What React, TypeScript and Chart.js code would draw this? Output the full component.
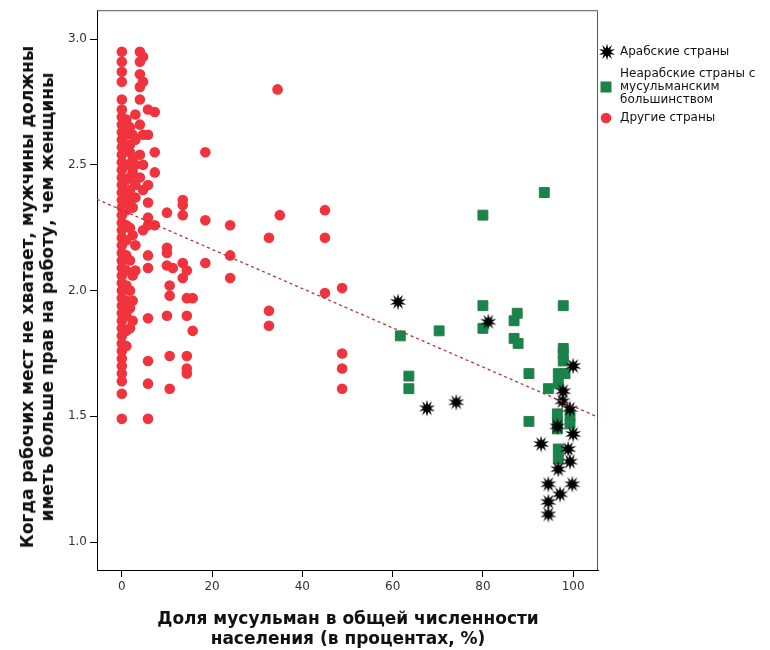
import React, { useEffect, useRef } from "react";
import { Chart, registerables } from "chart.js";

Chart.register(...registerables);

// ---- Data ----
const arabX = [61.2, 81.2, 67.6, 74.1, 92.9, 100, 97.8, 97.6, 99.3, 96.5, 100, 98.9, 99.3, 96.7, 94.5, 99.8, 97.1, 94.5, 94.5];
const arabY = [1.955, 1.876, 1.532, 1.556, 1.39, 1.70, 1.60, 1.56, 1.53, 1.46, 1.43, 1.37, 1.32, 1.29, 1.23, 1.23, 1.19, 1.16, 1.11];

const muslimX = [93.6, 80, 80, 80, 70.3, 61.7, 63.6, 63.6, 87.6, 86.9, 86.9, 87.8, 97.8, 97.8, 97.8, 97.8, 96.7, 98.2, 96.7, 90.2, 94.5, 90.2, 96.5, 96.5, 96.5, 99.3, 99.3, 96.7, 96.7];
const muslimY = [2.39, 2.30, 1.94, 1.85, 1.84, 1.82, 1.66, 1.61, 1.91, 1.88, 1.81, 1.79, 1.94, 1.77, 1.75, 1.72, 1.67, 1.67, 1.63, 1.67, 1.61, 1.48, 1.51, 1.48, 1.45, 1.50, 1.47, 1.37, 1.33];

const otherX = [
  0, 0, 0, 0, 0, 0,
  0, 0, 0, 0, 0, 0, 0, 0, 0, 0, 0, 0, 0, 0, 0, 0, 0, 0, 0, 0, 0, 0, 0, 0, 0, 0, 0, 0, 0, 0, 0, 0, 0, 0, 0, 0, 0, 0,
  1, 1, 1, 1, 1, 1, 1, 1, 1, 1, 1, 1, 1, 1, 1, 1,
  1.8, 1.8, 1.8, 1.8, 1.8, 1.8, 1.8, 1.8, 1.8, 1.8, 1.8,
  2.4, 2.4, 2.4, 2.4, 2.4, 2.4, 2.4, 2.4,
  3, 3, 3, 3, 3, 3, 3,
  4, 4, 4, 4, 4, 4, 4, 4,
  4.7, 4.7, 4.7, 4.7, 4.7, 4.7,
  5.8, 5.8, 5.8, 5.8, 5.8, 5.8, 5.8, 5.8, 5.8, 5.8, 5.8, 5.8,
  7.3, 7.3, 7.3, 7.3,
  10, 10, 10, 10, 10,
  10.6, 10.6, 10.6, 10.6,
  11.3,
  13.5, 13.5, 13.5, 13.5, 13.5,
  14.4, 14.4, 14.4, 14.4, 14.4, 14.4,
  15.7, 15.7,
  18.5, 18.5, 18.5,
  24, 24, 24,
  32.6, 32.6, 32.6,
  34.5, 35,
  45, 45, 45,
  48.8, 48.8, 48.8, 48.8,
];
const otherY = [
  2.95, 2.91, 2.87, 2.83, 2.76, 2.72,
  2.69, 2.66, 2.63, 2.60, 2.57, 2.54, 2.51, 2.48, 2.45, 2.42, 2.39, 2.36, 2.33, 2.30, 2.27, 2.24, 2.21, 2.18, 2.15, 2.12, 2.09, 2.06, 2.03, 2.00, 1.97, 1.94, 1.91, 1.88, 1.85, 1.82, 1.79, 1.76, 1.73, 1.59, 1.49, 1.70, 1.67, 1.64,
  2.68, 2.62, 2.56, 2.50, 2.44, 2.38, 2.32, 2.26, 2.20, 2.14, 2.08, 2.02, 1.96, 1.90, 1.84, 1.78,
  2.65, 2.55, 2.45, 2.35, 2.25, 2.12, 2.00, 1.93, 1.85, 2.40, 2.58,
  2.62, 2.52, 2.47, 2.33, 2.22, 2.06, 1.96, 1.88,
  2.70, 2.60, 2.50, 2.42, 2.37, 2.08, 2.18,
  2.95, 2.91, 2.86, 2.81, 2.76, 2.66, 2.54, 2.45,
  2.93, 2.83, 2.62, 2.50, 2.40, 2.24,
  2.72, 2.62, 2.42, 2.35, 2.29, 2.26, 2.14, 2.09, 1.89, 1.72, 1.63, 1.49,
  2.71, 2.55, 2.47, 2.26,
  2.31, 2.17, 2.15, 2.10, 1.90,
  2.02, 1.98, 1.74, 1.61,
  2.09,
  2.36, 2.34, 2.30, 2.11, 2.05,
  2.08, 1.97, 1.90, 1.74, 1.69, 1.67,
  1.97, 1.84,
  2.55, 2.28, 2.11,
  2.26, 2.14, 2.05,
  2.21, 1.92, 1.86,
  2.80, 2.30,
  2.32, 2.21, 1.99,
  2.01, 1.75, 1.69, 1.61,
];

const fitX = [-5.5, 105.5];
const fitY = [2.363, 1.497];

const xTicks = [0, 20, 40, 60, 80, 100];
const yTicks = [1.0, 1.5, 2.0, 2.5, 3.0];

const legendLabels = ["Арабские страны", "Неарабские страны с\nмусульманским\nбольшинством", "Другие страны"];
const xTitle = ["Доля мусульман в общей численности", "населения (в процентах, %)"];
const yTitle = ["Когда рабочих мест не хватает, мужчины должны", "иметь больше прав на работу, чем женщины"];

const RED = "#f0333d";
const GREEN = "#16854a";

function pts(xs: number[], ys: number[]) {
  return xs.map((x, i) => ({ x, y: ys[i] }));
}

function makeStar(): HTMLCanvasElement {
  const c = document.createElement("canvas");
  c.width = 18;
  c.height = 18;
  const ctx = c.getContext("2d")!;
  const n = 10;
  const ro = 8.5, ri = 3.8;
  ctx.beginPath();
  for (let i = 0; i < n * 2; i++) {
    const r = i % 2 === 0 ? ro : ri;
    const a = (Math.PI * i) / n - Math.PI / 2;
    const x = 9 + r * Math.cos(a);
    const y = 9 + r * Math.sin(a);
    if (i === 0) ctx.moveTo(x, y);
    else ctx.lineTo(x, y);
  }
  ctx.closePath();
  ctx.fillStyle = "#000";
  ctx.fill();
  return c;
}

function starPath(cx: number, cy: number, ro: number, ri: number, n: number) {
  let d = "";
  for (let i = 0; i < n * 2; i++) {
    const r = i % 2 === 0 ? ro : ri;
    const a = (Math.PI * i) / n - Math.PI / 2;
    d += (i === 0 ? "M" : "L") + (cx + r * Math.cos(a)).toFixed(2) + " " + (cy + r * Math.sin(a)).toFixed(2) + " ";
  }
  return d + "Z";
}

const framePlugin = {
  id: "frame",
  beforeDatasetsDraw(chart: any) {
    const { ctx, chartArea: a } = chart;
    ctx.save();
    ctx.strokeStyle = "#555";
    ctx.lineWidth = 1;
    ctx.beginPath();
    ctx.moveTo(a.left, a.top + 0.5);
    ctx.lineTo(a.right - 0.5, a.top + 0.5);
    ctx.lineTo(a.right - 0.5, a.bottom);
    ctx.stroke();
    ctx.restore();
  },
};

export default function App() {
  const ref = useRef<HTMLCanvasElement>(null);

  useEffect(() => {
    if (!ref.current) return;
    const star = makeStar();
    const chart = new Chart(ref.current, {
      type: "scatter",
      data: {
        datasets: [
          {
            type: "line",
            label: "fit",
            data: pts(fitX, fitY),
            borderColor: "#b3353a",
            borderWidth: 1.3,
            borderDash: [3, 3],
            pointRadius: 0,
            fill: false,
            order: 0,
          } as any,
          {
            label: legendLabels[0],
            data: pts(arabX, arabY),
            pointStyle: star as any,
            pointRadius: 9,
            order: 1,
          },
          {
            label: legendLabels[1],
            data: pts(muslimX, muslimY),
            pointStyle: "rect",
            pointRadius: 7,
            backgroundColor: GREEN,
            borderColor: "#2f7a4a",
            borderWidth: 1,
            order: 2,
          },
          {
            label: legendLabels[2],
            data: pts(otherX, otherY),
            pointStyle: "circle",
            pointRadius: 5.3,
            backgroundColor: RED,
            borderColor: RED,
            borderWidth: 0,
            order: 3,
          },
        ],
      },
      options: {
        animation: false,
        responsive: false,
        maintainAspectRatio: false,
        layout: { padding: { left: 47, right: 172, top: 7, bottom: 50 } },
        plugins: { legend: { display: false }, tooltip: { enabled: false } },
        scales: {
          x: {
            type: "linear",
            min: -5.5,
            max: 105.5,
            afterFit: (s: any) => {
              s.height = 30;
            },
            afterBuildTicks: (s: any) => {
              s.ticks = xTicks.map((v) => ({ value: v }));
            },
            ticks: {
              callback: (v: any) => String(v),
              color: "#333",
              font: { family: "DejaVu Sans", size: 12 },
              padding: 3,
              maxRotation: 0,
            },
            grid: { drawOnChartArea: false, drawTicks: true, tickLength: 7, color: "#000" },
            border: { display: true, color: "#000", width: 1 },
          },
          y: {
            type: "linear",
            min: 0.889,
            max: 3.115,
            afterFit: (s: any) => {
              s.width = 50;
            },
            afterBuildTicks: (s: any) => {
              s.ticks = yTicks.map((v) => ({ value: v }));
            },
            ticks: {
              callback: (v: any) => Number(v).toFixed(1),
              color: "#333",
              font: { family: "DejaVu Sans", size: 12 },
              padding: 3,
            },
            grid: { drawOnChartArea: false, drawTicks: true, tickLength: 7, color: "#000" },
            border: { display: true, color: "#000", width: 1 },
          },
        },
      },
      plugins: [framePlugin],
    });
    return () => chart.destroy();
  }, []);

  const titleFont: React.CSSProperties = {
    fontFamily: "'DejaVu Sans', sans-serif",
    fontWeight: "bold",
    fontSize: 17,
    lineHeight: "20px",
    color: "#111",
    whiteSpace: "nowrap",
    textAlign: "center",
    position: "absolute",
  };
  const legendFont: React.CSSProperties = {
    fontFamily: "'DejaVu Sans', sans-serif",
    fontSize: 12,
    lineHeight: "13px",
    color: "#111",
    position: "absolute",
    whiteSpace: "pre",
  };

  return (
    <div style={{ position: "fixed", left: 0, top: 0, width: 770, height: 650, background: "#fff" }}>
      <canvas ref={ref} width={770} height={650} style={{ position: "absolute", left: 0, top: 0, width: 770, height: 650 }} />
      <div style={{ ...titleFont, left: 36.5, top: 297, transform: "translate(-50%,-50%) rotate(-90deg)" }}>
        {yTitle[0]}
        <br />
        {yTitle[1]}
      </div>
      <div style={{ ...titleFont, left: 348, top: 628, transform: "translate(-50%,-50%)" }}>
        {xTitle[0]}
        <br />
        {xTitle[1]}
      </div>
      <svg style={{ position: "absolute", left: 598, top: 40 }} width={22} height={90}>
        <path d={starPath(9, 12, 8.5, 3.8, 10)} fill="#000" />
        <rect x={3} y={42} width={10} height={10} fill={GREEN} stroke="#2f7a4a" strokeWidth={1} />
        <circle cx={8} cy={78} r={5.3} fill={RED} />
      </svg>
      <div style={{ ...legendFont, left: 620, top: 45 }}>{legendLabels[0]}</div>
      <div style={{ ...legendFont, left: 620, top: 67 }}>{legendLabels[1]}</div>
      <div style={{ ...legendFont, left: 620, top: 111 }}>{legendLabels[2]}</div>
    </div>
  );
}
